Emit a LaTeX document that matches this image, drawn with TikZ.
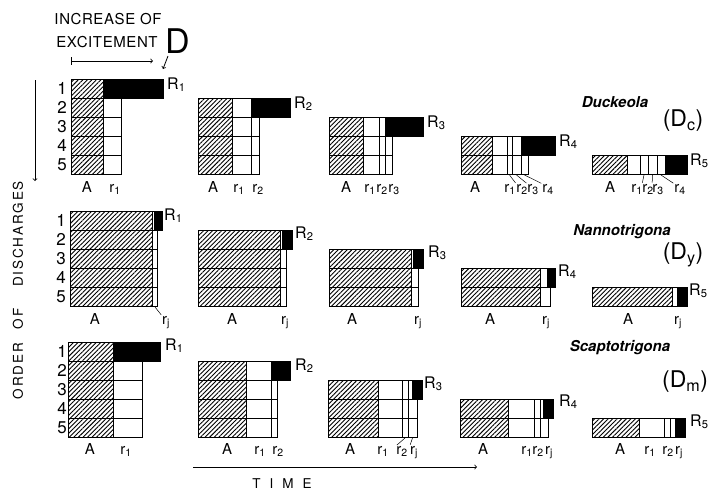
\documentclass[tikz,border=0pt]{standalone}
\usepackage{fontspec}
\setmainfont{TeX Gyre Heros}
\usetikzlibrary{arrows, patterns.meta}

\begin{document}
\begin{tikzpicture}[x=1pt,y=-1pt,>=to,
    hatch/.style={draw,line width=0.9pt,pattern={Lines[angle=45,distance=3.2pt,line width=0.9pt]}},
    cell/.style={draw,line width=0.9pt,fill=white},
    blk/.style={draw,line width=0.9pt,fill=black},
    num/.style={font=\fontsize{17}{17}\selectfont,inner sep=0pt},
    lab/.style={font=\fontsize{15}{15}\selectfont,inner sep=0pt,anchor=base},
    rlab/.style={font=\fontsize{16}{16}\selectfont,inner sep=0pt,anchor=base west},
    spec/.style={font=\fontsize{15}{15}\selectfont\bfseries\itshape,inner sep=0pt},
    genus/.style={font=\fontsize{23}{23}\selectfont,inner sep=0pt},
    ttl/.style={font=\fontsize{15}{15}\selectfont\addfontfeature{LetterSpace=4},inner sep=0pt,anchor=base},
    ax/.style={font=\fontsize{13.5}{14}\selectfont\addfontfeature{LetterSpace=14},inner sep=0pt},
    lead/.style={line width=0.5pt,shorten >=1pt}]
\useasboundingbox (0,0) rectangle (714,493);

% header
\node[ttl] (inc) at (108,24) {INCREASE OF};
\node[ttl] (exc) at (107,47) {EXCITEMENT};
\node[font=\fontsize{34}{34}\selectfont,inner sep=0pt,anchor=base west] (bigD) at (165,53) {D};
\coordinate (e0) at (71,61);
\coordinate (e1) at (153,61);
\draw[line width=0.8pt,|->] (e0) -- (e1);
\coordinate (d0) at (168,56);
\coordinate (d1) at (163,69);
\draw[line width=0.8pt,->] (d0) -- (d1);

% order of discharges
\coordinate (o0) at (35,80);
\coordinate (o1) at (35,181);
\draw[line width=0.8pt,->] (o0) -- (o1);
\node[ax,rotate=90] (ord) at (18,371) {ORDER};
\node[ax,rotate=90] (of) at (18,319) {OF};
\node[ax,rotate=90] (dis) at (18,234) {DISCHARGES};

% time
\coordinate (t0) at (193,467);
\coordinate (t1) at (477,467);
\draw[line width=0.8pt,->] (t0) -- (t1);
\node[ax,anchor=base] (time) at (282,488) {T\hspace{9pt}I\hspace{9pt}M\hspace{9pt}E};

\foreach \i in {1,...,5} {
  \node[num] (dn\i) at (62,69.5+19*\i) {\i};
  \node[num] (nn\i) at (61,201.5+19*\i) {\i};
  \node[num] (sn\i) at (62,332.5+19*\i) {\i};
}

%%%% Duckeola
\node[spec] (duck) at (615,102) {Duckeola};
\node[genus] (Dc) at (683,121) {(D\textsubscript{c})};
% 1
\foreach \t in {79,98,117,136,155} \draw[hatch] (71,\t) rectangle (103,\t+19);
\draw[blk] (103,79) rectangle (163,98);
\foreach \t in {98,117,136,155} \draw[cell] (103,\t) rectangle (121,\t+19);
\node[rlab] (dR1) at (167,89) {R\textsubscript{1}};
\node[lab] (d1A) at (87,192) {A};
\node[lab] (d1r1) at (115,192) {r\textsubscript{1}};
% 2
\foreach \t in {98,117,136,155} \draw[hatch] (198,\t) rectangle (232,\t+19);
\draw[cell] (232,98) rectangle (251,117);
\draw[blk] (251,98) rectangle (290,117);
\foreach \t in {117,136,155} \foreach \a/\b in {232/251,251/259}
  \draw[cell] (\a,\t) rectangle (\b,\t+19);
\node[rlab] (dR2) at (294,108) {R\textsubscript{2}};
\node[lab] (d2A) at (213,192) {A};
\node[lab] (d2r1) at (239,192) {r\textsubscript{1}};
\node[lab] (d2r2) at (258,192) {r\textsubscript{2}};
% 3
\foreach \t in {117,136,155} \draw[hatch] (329,\t) rectangle (363,\t+19);
\foreach \a/\b in {363/379,379/385} \draw[cell] (\a,117) rectangle (\b,136);
\draw[blk] (385,117) rectangle (423,136);
\foreach \t in {136,155} \foreach \a/\b in {363/379,379/385,385/392}
  \draw[cell] (\a,\t) rectangle (\b,\t+19);
\node[rlab] (dR3) at (427,127) {R\textsubscript{3}};
\node[lab] (d3A) at (346,192) {A};
\node[lab] (d3r1) at (370,192) {r\textsubscript{1}};
\node[lab] (d3r2) at (382,192) {r\textsubscript{2}};
\node[lab] (d3r3) at (394,192) {r\textsubscript{3}};
% 4
\foreach \t in {136,155} \draw[hatch] (461,\t) rectangle (492,\t+19);
\foreach \a/\b in {492/507,507/512,512/521} \draw[cell] (\a,136) rectangle (\b,155);
\draw[blk] (521,136) rectangle (555,155);
\foreach \a/\b in {492/507,507/512,512/521,521/528} \draw[cell] (\a,155) rectangle (\b,174);
\node[rlab] (dR4) at (559,146) {R\textsubscript{4}};
\node[lab] (d4A) at (475,192) {A};
\node[lab] (d4r1) at (510,192) {r\textsubscript{1}};
\node[lab] (d4r2) at (522,192) {r\textsubscript{2}};
\node[lab] (d4r3) at (533,192) {r\textsubscript{3}};
\node[lab] (d4r4) at (548,192) {r\textsubscript{4}};
\coordinate (c42) at (509.5,175);
\coordinate (c43) at (516.5,175);
\coordinate (c44) at (524.5,175);
\draw[lead] (c42) -- (d4r2.north west);
\draw[lead] (c43) -- (d4r3.north west);
\draw[lead] (c44) -- (d4r4.north west);
% 5
\draw[hatch] (592,155) rectangle (627,174);
\foreach \a/\b in {627/640,640/648,648/657,657/665} \draw[cell] (\a,155) rectangle (\b,174);
\draw[blk] (665,155) rectangle (687,174);
\node[rlab] (dR5) at (690,165) {R\textsubscript{5}};
\node[lab] (d5A) at (610,192) {A};
\node[lab] (d5r1) at (637,192) {r\textsubscript{1}};
\node[lab] (d5r2) at (648,192) {r\textsubscript{2}};
\node[lab] (d5r3) at (658,192) {r\textsubscript{3}};
\node[lab] (d5r4) at (680,192) {r\textsubscript{4}};
\coordinate (c52) at (644,175);
\coordinate (c53) at (652.5,175);
\coordinate (c54) at (661,175);
\draw[lead] (c52) -- (d5r2.north west);
\draw[lead] (c53) -- (d5r3.north west);
\draw[lead] (c54) -- (d5r4.north west);

%%%% Nannotrigona
\node[spec] (nanno) at (622,232) {Nannotrigona};
\node[genus] (Dy) at (683,255) {(D\textsubscript{y})};
% 1
\foreach \t in {211,230,249,268,287} \draw[hatch] (70,\t) rectangle (152,\t+19);
\draw[cell] (152,211) rectangle (154,230);
\draw[blk] (154,211) rectangle (162,230);
\foreach \t in {230,249,268,287} \draw[cell] (152,\t) rectangle (157,\t+19);
\node[rlab] (nR1) at (164,220) {R\textsubscript{1}};
\node[lab] (n1A) at (95,324) {A};
\node[lab] (n1rj) at (166,324) {r\textsubscript{j}};
\coordinate (n1c) at (155,307);
\draw[lead] (n1c) -- (n1rj.north west);
% 2
\foreach \t in {230,249,268,287} \draw[hatch] (198,\t) rectangle (280,\t+19);
\draw[cell] (280,230) rectangle (282,249);
\draw[blk] (282,230) rectangle (292,249);
\foreach \t in {249,268,287} \draw[cell] (280,\t) rectangle (286,\t+19);
\node[rlab] (nR2) at (295,238) {R\textsubscript{2}};
\node[lab] (n2A) at (232,324) {A};
\node[lab] (n2rj) at (285,324) {r\textsubscript{j}};
% 3
\foreach \t in {249,268,287} \draw[hatch] (329,\t) rectangle (411,\t+19);
\draw[cell] (411,249) rectangle (413,268);
\draw[blk] (413,249) rectangle (423,268);
\foreach \t in {268,287} \draw[cell] (411,\t) rectangle (418,\t+19);
\node[rlab] (nR3) at (428,257) {R\textsubscript{3}};
\node[lab] (n3A) at (352,324) {A};
\node[lab] (n3rj) at (418,324) {r\textsubscript{j}};
% 4
\foreach \t in {268,287} \draw[hatch] (461,\t) rectangle (540,\t+19);
\draw[cell] (540,268) rectangle (547,287);
\draw[blk] (547,268) rectangle (555,287);
\draw[cell] (540,287) rectangle (550,306);
\node[rlab] (nR4) at (558,276) {R\textsubscript{4}};
\node[lab] (n4A) at (490,324) {A};
\node[lab] (n4rj) at (546,324) {r\textsubscript{j}};
% 5
\draw[hatch] (592,287) rectangle (672,306);
\draw[cell] (672,287) rectangle (677,306);
\draw[blk] (677,287) rectangle (687,306);
\node[rlab] (nR5) at (689,295) {R\textsubscript{5}};
\node[lab] (n5A) at (628,324) {A};
\node[lab] (n5rj) at (678,324) {r\textsubscript{j}};

%%%% Scaptotrigona
\node[spec] (scapto) at (620,348) {Scaptotrigona};
\node[genus] (Dm) at (685,382) {(D\textsubscript{m})};
% 1
\foreach \t in {342,361,380,399,418} \draw[hatch] (68,\t) rectangle (113,\t+19);
\draw[blk] (113,342) rectangle (160,361);
\foreach \t in {361,380,399,418} \draw[cell] (113,\t) rectangle (142,\t+19);
\node[rlab] (sR1) at (165,350) {R\textsubscript{1}};
\node[lab] (s1A) at (90,454) {A};
\node[lab] (s1r1) at (126,454) {r\textsubscript{1}};
% 2
\foreach \t in {361,380,399,418} \draw[hatch] (198,\t) rectangle (246,\t+19);
\draw[cell] (246,361) rectangle (271,380);
\draw[blk] (271,361) rectangle (290,380);
\foreach \t in {380,399,418} \foreach \a/\b in {246/271,271/277}
  \draw[cell] (\a,\t) rectangle (\b,\t+19);
\node[rlab] (sR2) at (295,370) {R\textsubscript{2}};
\node[lab] (s2A) at (227,454) {A};
\node[lab] (s2r1) at (260,454) {r\textsubscript{1}};
\node[lab] (s2r2) at (278,454) {r\textsubscript{2}};
% 3
\foreach \t in {380,399,418} \draw[hatch] (328,\t) rectangle (378,\t+19);
\foreach \a/\b in {378/402,402/408,408/412} \draw[cell] (\a,380) rectangle (\b,399);
\draw[blk] (412,380) rectangle (422,399);
\foreach \t in {399,418} \foreach \a/\b in {378/402,402/408,408/417}
  \draw[cell] (\a,\t) rectangle (\b,\t+19);
\node[rlab] (sR3) at (424,388) {R\textsubscript{3}};
\node[lab] (s3A) at (350,454) {A};
\node[lab] (s3r1) at (383,454) {r\textsubscript{1}};
\node[lab] (s3r2) at (402,454) {r\textsubscript{2}};
\node[lab] (s3rj) at (414,454) {r\textsubscript{j}};
\coordinate (s3c2) at (405,438);
\coordinate (s3c3) at (412.5,438);
\draw[lead] (s3c2) -- (s3r2.north west);
\draw[lead] (s3c3) -- (s3rj.north west);
% 4
\foreach \t in {399,418} \draw[hatch] (460,\t) rectangle (508,\t+19);
\foreach \a/\b in {508/534,534/540,540/543} \draw[cell] (\a,399) rectangle (\b,418);
\draw[blk] (543,399) rectangle (553,418);
\foreach \a/\b in {508/534,534/540,540/548} \draw[cell] (\a,418) rectangle (\b,437);
\node[rlab] (sR4) at (559,406) {R\textsubscript{4}};
\node[lab] (s4A) at (483,454) {A};
\node[lab] (s4r1) at (527,454) {r\textsubscript{1}};
\node[lab] (s4r2) at (538,454) {r\textsubscript{2}};
\node[lab] (s4rj) at (549,454) {r\textsubscript{j}};
% 5
\draw[hatch] (592,418) rectangle (639,437);
\foreach \a/\b in {639/664,664/670,670/675} \draw[cell] (\a,418) rectangle (\b,437);
\draw[blk] (675,418) rectangle (685,437);
\node[rlab] (sR5) at (690,426) {R\textsubscript{5}};
\node[lab] (s5A) at (620,454) {A};
\node[lab] (s5r1) at (650,454) {r\textsubscript{1}};
\node[lab] (s5r2) at (668,454) {r\textsubscript{2}};
\node[lab] (s5rj) at (679,454) {r\textsubscript{j}};
\end{tikzpicture}
\end{document}
